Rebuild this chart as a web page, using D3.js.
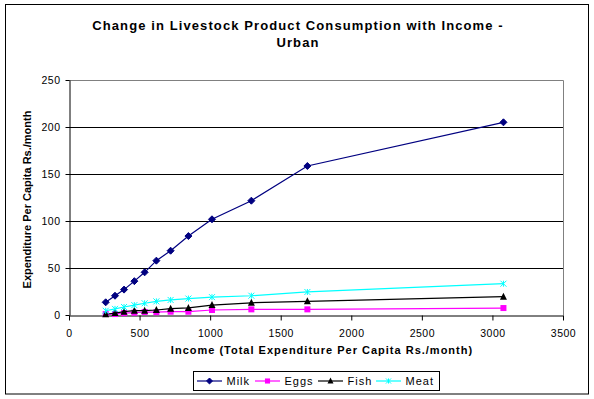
<!DOCTYPE html>
<html>
<head>
<meta charset="utf-8">
<script src="https://cdn.jsdelivr.net/npm/d3@7"></script>
<style>
  body { margin: 0; background: #fff; }
  svg { display: block; font-family: "Liberation Sans", Arial, sans-serif; }
</style>
</head>
<body>
<div id="chart"></div>
<script>
// Income (total expenditure per capita, Rs./month)
const income = [260, 326, 390, 463, 536, 619, 720, 846, 1013, 1292, 1689, 3078];
const milk = [13.5, 20.5, 27, 36, 45.4, 57.8, 68.4, 84, 101.8, 121.6, 158.5, 205];
const eggs = [1, 1, 2, 2.5, 3.2, 3, 3.5, 3.5, 5.3, 6, 6, 7.4];
const fish = [0.8, 2, 3.5, 4.6, 4.6, 5.3, 6.7, 7.5, 10.6, 13, 14.6, 19.5];
const meat = [4.5, 6.5, 8.5, 10.5, 12.5, 14.5, 16, 17.5, 19, 20.5, 24.5, 33.3];
const xTicks = [0, 500, 1000, 1500, 2000, 2500, 3000, 3500];
const yTicks = [0, 50, 100, 150, 200, 250];

const series = [
  { name: "Milk", values: milk, color: "#000080", marker: "diamond" },
  { name: "Eggs", values: eggs, color: "#ff00ff", marker: "square" },
  { name: "Fish", values: fish, color: "#000000", marker: "triangle" },
  { name: "Meat", values: meat, color: "#00ffff", marker: "star" },
];

const width = 594, height = 399;
const plot = { left: 69, top: 80, right: 563, bottom: 315 };

const svg = d3.select("#chart").append("svg")
  .attr("width", width)
  .attr("height", height);

// outer frame
svg.append("rect")
  .attr("x", 5.5).attr("y", 4.5)
  .attr("width", 583).attr("height", 389.5)
  .attr("fill", "#fff").attr("stroke", "#000").attr("stroke-width", 1);

const x = d3.scaleLinear().domain([0, 3500]).range([plot.left, plot.right]);
const y = d3.scaleLinear().domain([0, 250]).range([plot.bottom, plot.top]);

// gridlines
svg.append("g")
  .selectAll("line")
  .data(yTicks.filter(d => d > 0 && d < 250))
  .join("line")
  .attr("x1", plot.left).attr("x2", plot.right)
  .attr("y1", d => Math.round(y(d)) + 0.5).attr("y2", d => Math.round(y(d)) + 0.5)
  .attr("stroke", "#000");

// gray plot border (top / right)
svg.append("path")
  .attr("d", `M${plot.left},${plot.top + 0.5}H${plot.right + 0.5}V${plot.bottom}`)
  .attr("fill", "none").attr("stroke", "#808080");

// axes
const xAxis = svg.append("g")
  .attr("transform", `translate(0,${plot.bottom + 0.5})`)
  .call(d3.axisBottom(x).tickValues(xTicks).tickFormat(d3.format("d")).tickSize(5).tickSizeOuter(0));
const yAxis = svg.append("g")
  .attr("transform", `translate(${plot.left + 0.5},0)`)
  .call(d3.axisLeft(y).tickValues(yTicks).tickFormat(d3.format("d")).tickSize(4).tickSizeOuter(0));

[xAxis, yAxis].forEach(g => {
  g.select(".domain").attr("stroke", "#000");
  g.selectAll(".tick line").attr("stroke", "#000");
  g.selectAll(".tick text")
    .attr("font-family", "Liberation Sans, Arial, sans-serif")
    .attr("font-size", 10.5).attr("letter-spacing", "0.5px").attr("fill", "#000");
});
xAxis.selectAll(".tick text").attr("dy", 0).attr("y", 21);
yAxis.selectAll(".tick text").attr("x", -9);

// marker drawing
function drawMarker(g, type, color, size) {
  const s = size || 1;
  if (type === "diamond") {
    g.append("path").attr("d", `M0,${-3.5 * s}L${3.5 * s},0L0,${3.5 * s}L${-3.5 * s},0Z`)
      .attr("fill", color).attr("stroke", color);
  } else if (type === "square") {
    g.append("rect").attr("x", -3 * s).attr("y", -3 * s)
      .attr("width", 6 * s).attr("height", 6 * s).attr("fill", color);
  } else if (type === "triangle") {
    g.append("path").attr("d", `M0,${-4 * s}L${3.5 * s},${3 * s}L${-3.5 * s},${3 * s}Z`)
      .attr("fill", color);
  } else if (type === "star") {
    const r = 3 * s;
    g.append("path")
      .attr("d", `M${-r},${-r}L${r},${r}M${-r},${r}L${r},${-r}M0,${-r}V${r}`)
      .attr("stroke", color).attr("stroke-width", 1).attr("fill", "none");
  }
}

const line = d3.line()
  .x(d => x(d[0]))
  .y(d => y(d[1]));

series.forEach(s => {
  const pts = income.map((v, i) => [v, s.values[i]]);
  const g = svg.append("g");
  g.append("path")
    .datum(pts)
    .attr("d", line)
    .attr("fill", "none")
    .attr("stroke", s.color)
    .attr("stroke-width", 1.2);
  g.selectAll(".mk")
    .data(pts)
    .join("g")
    .attr("class", "mk")
    .attr("transform", d => `translate(${x(d[0])},${y(d[1])})`)
    .each(function () { drawMarker(d3.select(this), s.marker, s.color); });
});

// title
const title = svg.append("text")
  .attr("text-anchor", "middle")
  .attr("font-size", 13).attr("font-weight", "bold")
  .attr("letter-spacing", "1.1px");
title.append("tspan").attr("x", 298).attr("y", 30)
  .text("Change in Livestock Product Consumption with Income -");
title.append("tspan").attr("x", 298).attr("y", 47).text("Urban");

// axis titles
svg.append("text")
  .attr("x", 322).attr("y", 354)
  .attr("text-anchor", "middle")
  .attr("font-size", 11).attr("font-weight", "bold")
  .attr("letter-spacing", "1px")
  .text("Income (Total Expenditure Per Capita Rs./month)");

svg.append("text")
  .attr("transform", `translate(30.5,${(plot.top + plot.bottom) / 2 + 2}) rotate(-90)`)
  .attr("text-anchor", "middle")
  .attr("font-size", 11).attr("font-weight", "bold")
  .text("Expenditure Per Capita Rs./month");

// legend
const legend = svg.append("g");
legend.append("rect")
  .attr("x", 193.5).attr("y", 371.5)
  .attr("width", 246).attr("height", 19)
  .attr("fill", "#fff").attr("stroke", "#000");

const legendX = [197, 255, 318, 376];
series.forEach((s, i) => {
  const g = legend.append("g").attr("transform", `translate(${legendX[i]},381)`);
  g.append("line").attr("x1", 0).attr("x2", 25).attr("y1", 0).attr("y2", 0)
    .attr("stroke", s.color).attr("stroke-width", 1.2);
  const m = g.append("g").attr("transform", "translate(12.5,0)");
  drawMarker(m, s.marker, s.color, 0.85);
  g.append("text").attr("x", 29.5).attr("y", 4)
    .attr("font-size", 11).attr("letter-spacing", "1px").text(s.name);
});
</script>
</body>
</html>
